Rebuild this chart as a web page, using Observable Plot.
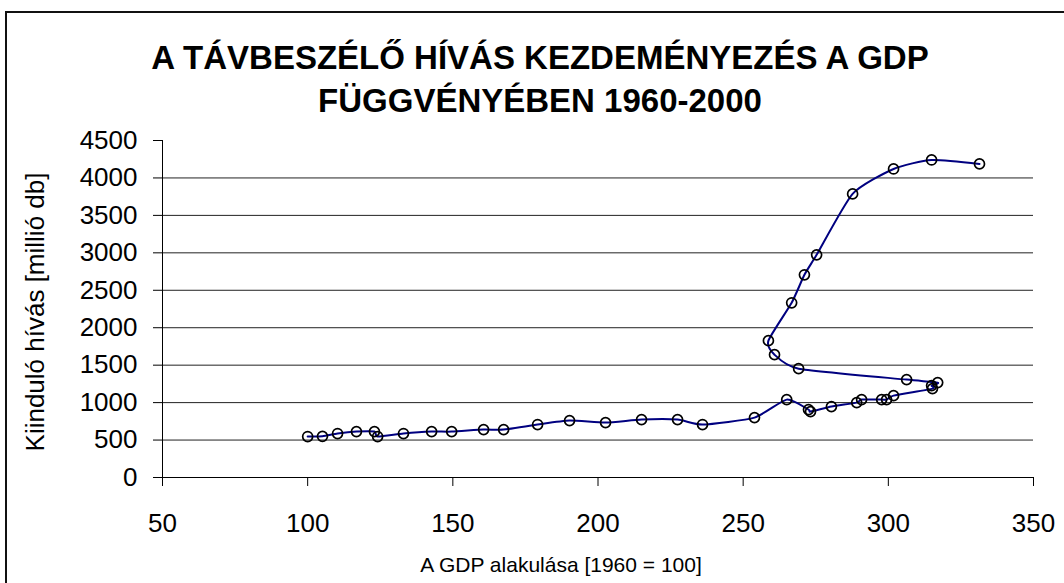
<!DOCTYPE html>
<html>
<head>
<meta charset="utf-8">
<script src="https://cdn.jsdelivr.net/npm/d3@7"></script>
<script src="https://cdn.jsdelivr.net/npm/@observablehq/plot@0.6"></script>
<style>
  html, body { margin: 0; padding: 0; background: #fff; }
  #wrap { position: relative; width: 1064px; height: 583px; overflow: hidden; font-family: "Liberation Sans", Arial, sans-serif; }
  #frame { position: absolute; left: 5px; top: 11px; width: 1070px; height: 600px; border-top: 2px solid #111; border-left: 2px solid #111; box-sizing: border-box; pointer-events: none; }
  #title { position: absolute; left: 0; top: 36px; width: 1080px; text-align: center; font-weight: bold; font-size: 33px; line-height: 43px; color: #000; }
  #ylabel { position: absolute; left: 35px; top: 312px; transform: translate(-50%, -50%) rotate(-90deg); white-space: nowrap; font-size: 26px; color: #000; }
  #xlabel { position: absolute; left: 561px; top: 565px; transform: translate(-50%, -50%); white-space: nowrap; font-size: 21px; color: #000; }
  svg { position: absolute; left: 0; top: 0; }
</style>
</head>
<body>
<div id="wrap">
  <div id="chart"></div>
  <div id="frame"></div>
  <div id="title">A TÁVBESZÉLŐ HÍVÁS KEZDEMÉNYEZÉS A GDP<br>FÜGGVÉNYÉBEN 1960-2000</div>
  <div id="ylabel">Kiinduló hívás [millió db]</div>
  <div id="xlabel">A GDP alakulása [1960 = 100]</div>
</div>
<script>
// GDP index (1960 = 100), one value per year 1960–2000
const gdp = [100, 105.1, 110.3, 116.8, 123.0, 124.1, 133.0, 142.7, 149.6, 160.6,
             167.5, 179.2, 190.2, 202.6, 215.0, 227.4, 236.0, 253.9, 265.0, 272.5,
             273.2, 280.4, 289.1, 290.8, 297.7, 299.4, 301.8, 315.2, 314.9, 317.0,
             306.3, 269.1, 260.8, 258.7, 266.7, 271.1, 275.3, 287.7, 301.8, 314.9,
             331.4];
// Outgoing calls [million]
const calls = [547, 550, 587, 613, 613, 547, 587, 613, 613, 640,
               640, 707, 760, 733, 773, 773, 707, 800, 1040, 907,
               880, 947, 1000, 1040, 1040, 1040, 1093, 1187, 1227, 1267,
               1307, 1453, 1640, 1827, 2333, 2707, 2973, 3787, 4120, 4240,
               4187];
const xTicks = [50, 100, 150, 200, 250, 300, 350];
const yTicks = [0, 500, 1000, 1500, 2000, 2500, 3000, 3500, 4000, 4500];
const yGrid = [500, 1000, 1500, 2000, 2500, 3000, 3500, 4000];

const data = gdp.map((g, i) => ({gdp: g, calls: calls[i]}));

const chart = Plot.plot({
  width: 1064,
  height: 583,
  marginLeft: 162,
  marginRight: 31,
  marginTop: 140,
  marginBottom: 106,
  style: {fontFamily: "'Liberation Sans', Arial, sans-serif", background: "transparent", color: "#000"},
  x: {domain: [50, 350]},
  y: {domain: [0, 4500]},
  marks: [
    Plot.ruleY(yGrid, {stroke: "#222", strokeWidth: 1}),
    Plot.axisX({ticks: xTicks, tickSize: 9, tickPadding: 27, fontSize: 26, label: null, stroke: "#000", tickFormat: d => String(d)}),
    Plot.axisY({ticks: yTicks, tickSize: 9, tickPadding: 16, fontSize: 26, label: null, stroke: "#000", tickFormat: d => String(d)}),
    Plot.ruleY([0], {stroke: "#000", strokeWidth: 1}),
    Plot.ruleX([50], {y1: 0, y2: 4500, stroke: "#000", strokeWidth: 1}),
    Plot.line(data, {x: "gdp", y: "calls", curve: "cardinal", tension: 0.4, stroke: "#000080", strokeWidth: 2}),
    Plot.dot(data, {x: "gdp", y: "calls", r: 5, stroke: "#000", strokeWidth: 1.7, fill: "none"})
  ]
});
document.getElementById("chart").appendChild(chart);
</script>
</body>
</html>
